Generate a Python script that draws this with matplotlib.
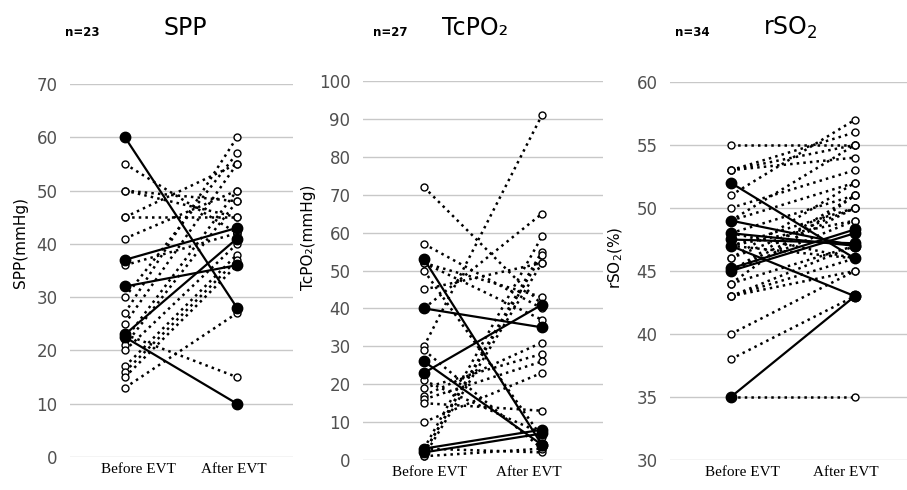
import matplotlib.pyplot as plt

# SPP (n=23): before / after pairs, solid = filled markers
spp_solid_before = [60, 37, 32, 23, 22.5]
spp_solid_after = [28, 43, 36, 41, 10]
spp_dot_before = [55, 50, 50, 45, 45, 41, 36, 30, 27, 25, 22, 21, 20, 17, 16, 15, 13, 23]
spp_dot_after = [42, 45, 48, 55, 45, 50, 42, 57, 60, 55, 50, 48, 40, 38, 37, 36, 27, 15]

# TcPO2 (n=27)
tc_solid_before = [53, 40, 26, 23, 3, 2]
tc_solid_after = [4, 35, 4, 41, 8, 7]
tc_dot_before = [72, 57, 52, 52, 50, 45, 40, 30, 29, 21, 19, 17, 16, 15, 10, 3, 2, 2, 1, 3, 1]
tc_dot_after = [41, 40, 43, 37, 6, 52, 65, 91, 3, 7, 28, 31, 26, 13, 23, 59, 55, 54, 52, 2, 3]

# rSO2 (n=34)
rs_solid_before = [52, 49, 48, 47.5, 47, 45, 45.2, 35]
rs_solid_after = [46, 47, 47, 47.2, 43, 48, 48.3, 43]
rs_dot_before = [55, 53, 53, 53, 51, 50, 49, 49, 48, 48, 47, 47, 46, 46, 45, 45, 45,
                 44, 44, 43, 43, 43, 40, 38, 35, 47]
rs_dot_after = [55, 56, 55, 54, 57, 53, 52, 55, 51, 46, 50, 49, 52, 50, 50, 49, 51,
                51, 47, 47, 45, 46, 45, 43, 35, 46]

panels = [
    dict(rect=[0.0772, 0.0673, 0.2459, 0.7613], xlim=(-0.49, 1.5), ylim=(0, 70), step=10,
         sb=spp_solid_before, sa=spp_solid_after, db=spp_dot_before, da=spp_dot_after,
         ylabel='SPP(mmHg)', title='SPP', n='n=23', tx=185, nx=65, lab=(0.116, 0.973),
         ylx=21, yly=242),
    dict(rect=[0.4002, 0.0612, 0.2646, 0.7735], xlim=(-0.517, 1.517), ylim=(0, 100), step=10,
         sb=tc_solid_before, sa=tc_solid_after, db=tc_dot_before, da=tc_dot_after,
         ylabel='TcPO\u2082(mmHg)', title='TcPO\u2082', n='n=27', tx=475, nx=373, lab=(0.05, 0.89),
         ylx=309, yly=237),
    dict(rect=[0.7387, 0.0612, 0.2613, 0.7715], xlim=(-0.49, 1.42), ylim=(30, 60), step=5,
         sb=rs_solid_before, sa=rs_solid_after, db=rs_dot_before, da=rs_dot_after,
         ylabel='rSO$_2$(%)', title='rSO$_2$', n='n=34', tx=790, nx=675, lab=(0.097, 0.927),
         ylx=616, yly=258),
]

fig = plt.figure(figsize=(9.07, 4.90), dpi=100)
W, H = 907, 490

for p in panels:
    ax = fig.add_axes(p['rect'])
    ax.set_xlim(*p['xlim'])
    ax.set_ylim(*p['ylim'])
    lo, hi = p['ylim']
    ax.set_yticks(range(lo, hi + 1, p['step']))
    ax.yaxis.grid(True, color='#c8c8c8', lw=1.0)
    ax.set_axisbelow(True)
    for s in ax.spines.values():
        s.set_visible(False)
    ax.tick_params(axis='y', length=0, pad=9, labelsize=12, labelcolor='#505050')
    ax.set_xticks(list(p['lab']))
    ax.set_xticklabels(['Before EVT', 'After EVT'], family='Liberation Serif', fontsize=11)
    ax.tick_params(axis='x', length=0, pad=4)

    for b, a in zip(p['db'], p['da']):
        ax.plot([0, 1], [b, a], color='black', ls=':', lw=1.8, marker='o', ms=5,
                mfc='white', mec='black', mew=1.0, clip_on=False)
    for b, a in zip(p['sb'], p['sa']):
        ax.plot([0, 1], [b, a], color='black', ls='-', lw=1.6, marker='o', ms=7.5,
                mfc='black', mec='black', clip_on=False, zorder=3)

    fig.text(p['ylx'] / W, 1 - p['yly'] / H, p['ylabel'], rotation=90,
             ha='center', va='center', fontsize=11)
    fig.text(p['tx'] / W, 1 - 28 / H, p['title'], ha='center', va='center', fontsize=17)
    fig.text(p['nx'] / W, 1 - 32 / H, p['n'], ha='left', va='center', fontsize=8.5, fontweight='bold')

fig.savefig('out.png', dpi=100)
